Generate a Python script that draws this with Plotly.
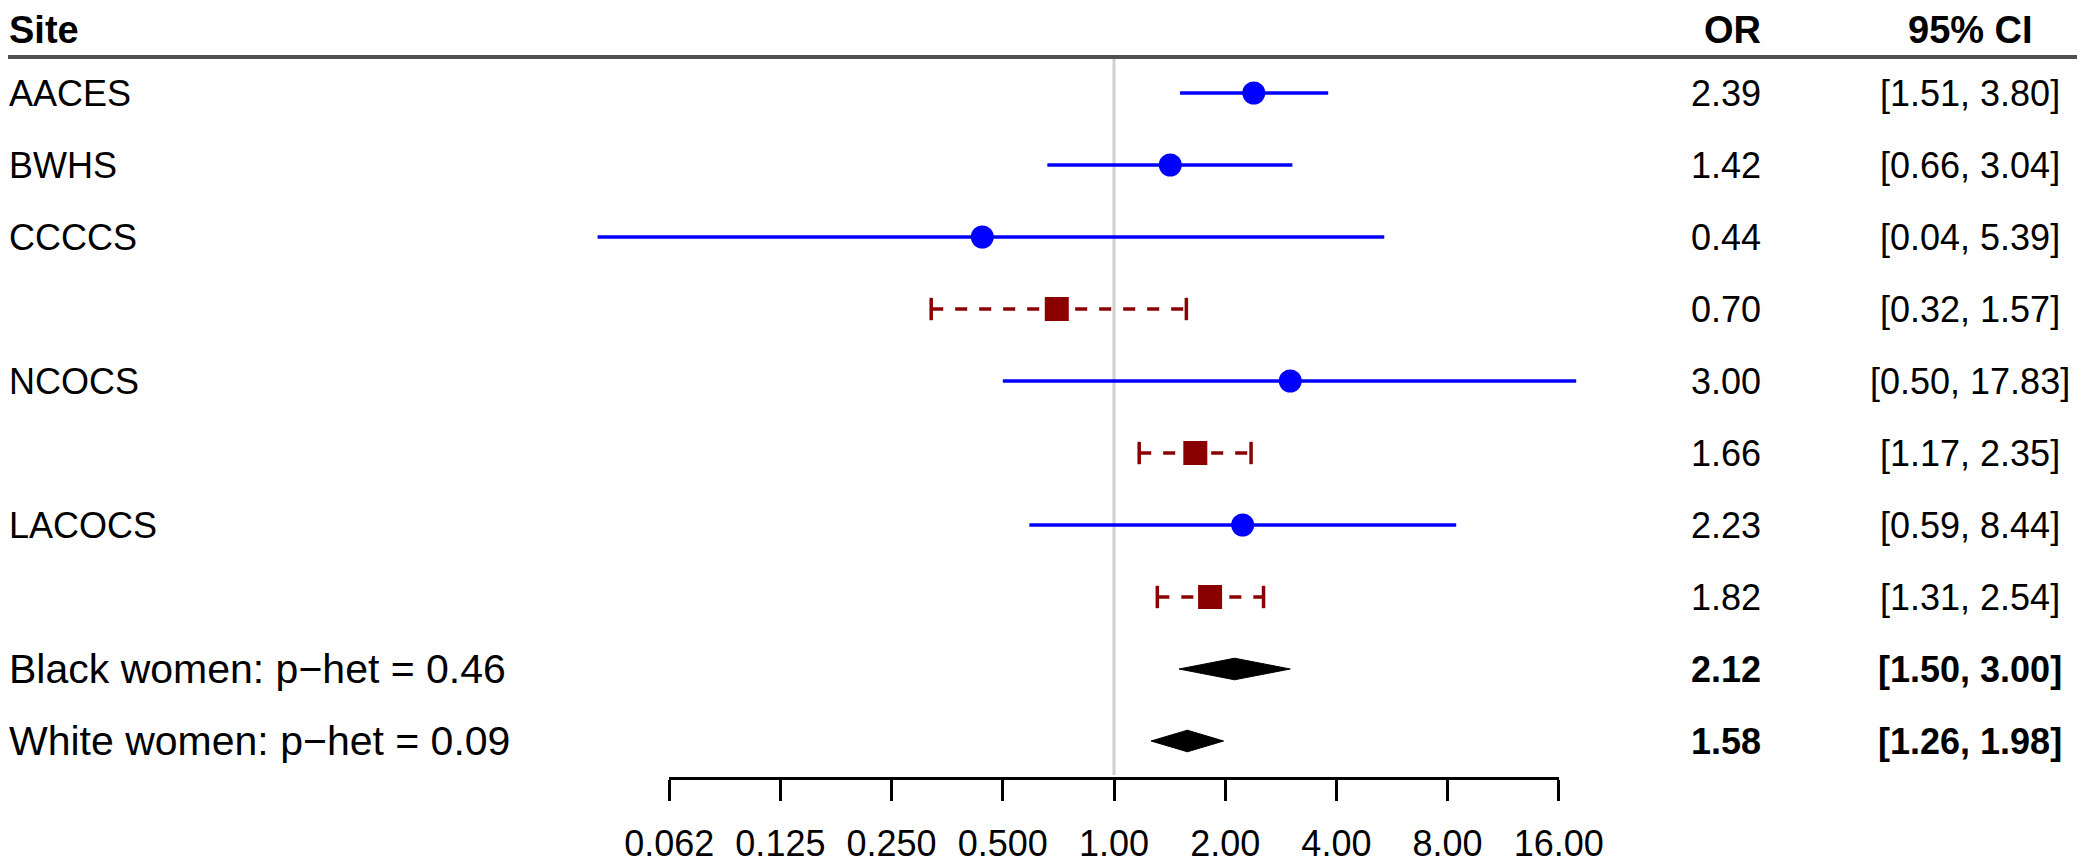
import plotly.graph_objects as go
import math

# ---- data ----
sites = ["AACES", "BWHS", "CCCCS", "", "NCOCS", "", "LACOCS", "",
         "Black women: p\u2212het = 0.46", "White women: p\u2212het = 0.09"]
or_vals = [2.39, 1.42, 0.44, 0.70, 3.00, 1.66, 2.23, 1.82, 2.12, 1.58]
ci_lo = [1.51, 0.66, 0.04, 0.32, 0.50, 1.17, 0.59, 1.31, 1.50, 1.26]
ci_hi = [3.80, 3.04, 5.39, 1.57, 17.83, 2.35, 8.44, 2.54, 3.00, 1.98]
kind = ["black", "black", "black", "white", "black", "white", "black", "white",
        "summary", "summary"]
tick_vals = [0.0625, 0.125, 0.25, 0.5, 1, 2, 4, 8, 16]
tick_text = ["0.062", "0.125", "0.250", "0.500", "1.00", "2.00", "4.00", "8.00", "16.00"]

W, H = 2085, 862
OFF = 8  # page body margin offset
FONT = "Liberation Sans, Arial, sans-serif"
BLUE = "#0000FF"
RED = "#8B0000"


def px(x):
    return (x - OFF) / W


def py(y):
    return 1 - (y - OFF) / H


fig = go.Figure()
rows = list(range(len(sites)))

# CI lines
for i in rows:
    if kind[i] == "black":
        fig.add_trace(go.Scatter(x=[ci_lo[i], ci_hi[i]], y=[i, i], mode="lines",
                                 line=dict(color=BLUE, width=3.5), hoverinfo="skip",
                                 showlegend=False))
    elif kind[i] == "white":
        fig.add_trace(go.Scatter(x=[ci_lo[i], ci_hi[i]], y=[i, i], mode="lines",
                                 line=dict(color=RED, width=3.5, dash="12px,12px"),
                                 hoverinfo="skip", showlegend=False))
        fig.add_trace(go.Scatter(x=[ci_lo[i], ci_hi[i]], y=[i, i], mode="markers",
                                 marker=dict(symbol="line-ns", size=16,
                                             line=dict(color=RED, width=3.5)),
                                 hoverinfo="skip", showlegend=False))
    else:
        h = 0.15
        fig.add_trace(go.Scatter(x=[ci_lo[i], or_vals[i], ci_hi[i], or_vals[i], ci_lo[i]],
                                 y=[i, i - h, i, i + h, i], mode="lines", fill="toself",
                                 fillcolor="black", line=dict(color="black", width=1),
                                 hoverinfo="skip", showlegend=False))

# point estimates
bi = [i for i in rows if kind[i] == "black"]
wi = [i for i in rows if kind[i] == "white"]
fig.add_trace(go.Scatter(x=[or_vals[i] for i in bi], y=bi, mode="markers",
                         marker=dict(symbol="circle", size=23, color=BLUE),
                         showlegend=False))
fig.add_trace(go.Scatter(x=[or_vals[i] for i in wi], y=wi, mode="markers",
                         marker=dict(symbol="square", size=24, color=RED),
                         showlegend=False))

# dummy trace for the bottom axis
fig.add_trace(go.Scatter(x=[1], y=[0], xaxis="x2", yaxis="y", mode="markers",
                         marker=dict(opacity=0), hoverinfo="skip", showlegend=False))

# text columns
ann = []
for i in rows:
    bold = kind[i] == "summary"
    f = dict(family=FONT, size=36, color="black")
    if sites[i]:
        lf = dict(family=FONT, size=41 if bold else 36, color="black")
        ann.append(dict(x=px(7), y=i, xref="paper", yref="y", text=sites[i],
                        xanchor="left", yanchor="middle", showarrow=False, font=lf))
    o = f"{or_vals[i]:.2f}"
    c = f"[{ci_lo[i]:.2f}, {ci_hi[i]:.2f}]"
    if bold:
        o, c = f"<b>{o}</b>", f"<b>{c}</b>"
    ann.append(dict(x=px(1726), y=i, xref="paper", yref="y", text=o,
                    xanchor="center", yanchor="middle", showarrow=False, font=f))
    ann.append(dict(x=px(1970), y=i, xref="paper", yref="y", text=c,
                    xanchor="center", yanchor="middle", showarrow=False, font=f))

hf = dict(family=FONT, size=38, color="black")
hy = py(30)
ann.append(dict(x=px(7), y=hy, xref="paper", yref="paper", text="<b>Site</b>",
                xanchor="left", yanchor="middle", showarrow=False, font=hf))
ann.append(dict(x=px(1732), y=hy, xref="paper", yref="paper", text="<b>OR</b>",
                xanchor="center", yanchor="middle", showarrow=False, font=hf))
ann.append(dict(x=px(1970), y=hy, xref="paper", yref="paper", text="<b>95% CI</b>",
                xanchor="center", yanchor="middle", showarrow=False, font=hf))

shapes = [
    dict(type="line", xref="paper", yref="paper", x0=px(7), x1=px(2081),
         y0=py(57), y1=py(57), line=dict(color="#505050", width=4)),
    dict(type="line", xref="x", yref="paper", x0=1, x1=1,
         y0=py(59), y1=py(775), line=dict(color="#D0D0D0", width=3),
         layer="below"),
]

x_one_px, px_per_doubling = 1114 - OFF, 111.2
lo_log10 = ((0 - x_one_px) / px_per_doubling) * math.log10(2)
hi_log10 = ((W - x_one_px) / px_per_doubling) * math.log10(2)
row0_px, row_step = 93 - OFF, 72.0
y_top = (0 - row0_px) / row_step
y_bot = (H - row0_px) / row_step

fig.update_layout(
    width=W, height=H, margin=dict(l=0, r=0, t=0, b=0, autoexpand=False),
    paper_bgcolor="white", plot_bgcolor="rgba(0,0,0,0)",
    xaxis=dict(type="log", range=[lo_log10, hi_log10], visible=False, domain=[0, 1],
               automargin=False),
    xaxis2=dict(type="log", range=[math.log10(0.0625), math.log10(16)],
                domain=[(x_one_px - 4 * px_per_doubling) / W, (x_one_px + 4 * px_per_doubling) / W],
                anchor="free", position=py(778), side="bottom", automargin=False,
                showline=True, linecolor="black", linewidth=2.5,
                ticks="outside", ticklen=21, tickwidth=2.5, tickcolor="black",
                tickvals=tick_vals, ticktext=tick_text, showgrid=False, zeroline=False,
                tickfont=dict(family=FONT, size=36, color="black"), ticklabelstandoff=12),
    yaxis=dict(range=[y_bot, y_top], visible=False, domain=[0, 1], automargin=False),
    annotations=ann, shapes=shapes, showlegend=False,
)

fig.write_html("out.html")
